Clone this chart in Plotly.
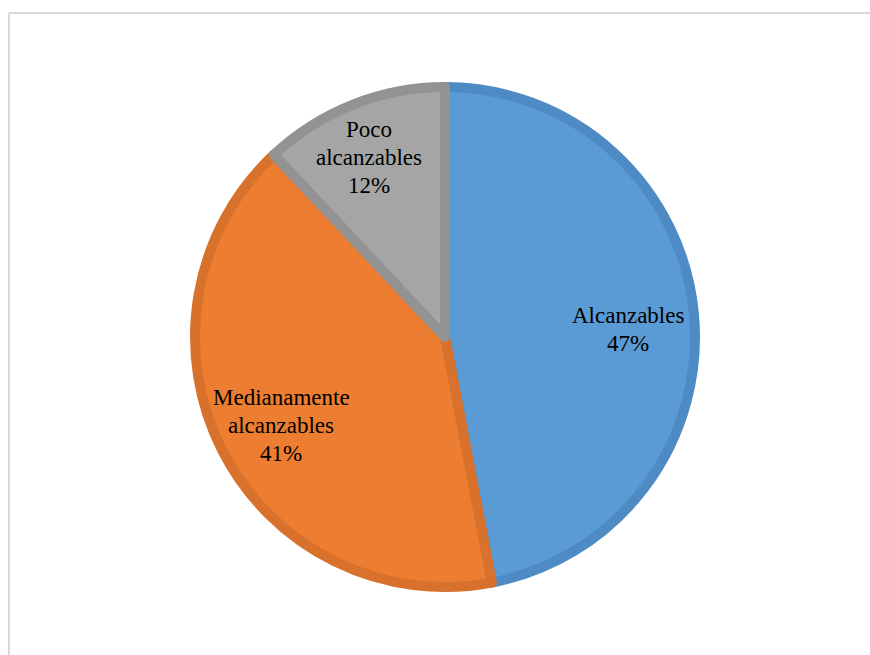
import math
import plotly.graph_objects as go

# Share of objectives by reachability
categories = ["Alcanzables", "Medianamente alcanzables", "Poco alcanzables"]
label_lines = [["Alcanzables"], ["Medianamente", "alcanzables"], ["Poco", "alcanzables"]]
values = [47, 41, 12]

fill_colors = ["#5B9BD5", "#ED7D31", "#A5A5A5"]
edge_colors = ["#4E8BC4", "#D8712B", "#939393"]

W, H = 870, 655
cx, cy = 445, 337          # pie centre in pixels (from top-left)
r_fill = 250               # radius of the filled part
edge_w = 10

fig = go.Figure()
fig.add_trace(go.Pie(
    labels=categories,
    values=values,
    sort=False,
    direction="clockwise",
    rotation=0,
    marker=dict(colors=fill_colors, line=dict(color=edge_colors, width=edge_w)),
    textinfo="none",
    hoverinfo="label+percent",
    showlegend=False,
    domain=dict(x=[(cx - r_fill) / W, (cx + r_fill) / W],
                y=[(H - cy - r_fill) / H, (H - cy + r_fill) / H]),
))

# Slice labels at each slice's mid-angle, with a small per-label nudge (px)
label_radius = 0.72
label_nudge = [(0, 10), (0, 5), (-8, -9)]
line_gap = 28
label_font = dict(family="Liberation Serif, Times New Roman, serif", size=23, color="#000000")

total = sum(values)
cum = 0
annotations = []
r_outer = r_fill + edge_w / 2
for lines, val, (nx, ny) in zip(label_lines, values, label_nudge):
    mid = (cum + val / 2) / total * 2 * math.pi
    cum += val
    px = cx + label_radius * r_outer * math.sin(mid) + nx
    py = cy - label_radius * r_outer * math.cos(mid) + ny
    pct = round(val / total * 100)
    rows = lines + [f"{pct}%"]
    n = len(rows)
    for i, row in enumerate(rows):
        ry = py + (i - (n - 1) / 2) * line_gap
        annotations.append(dict(
            x=px / W, y=1 - ry / H, xref="paper", yref="paper",
            text=row, showarrow=False,
            xanchor="center", yanchor="middle", align="center",
            font=label_font,
        ))

# Chart-area frame (left and top edges visible)
shapes = [
    dict(type="line", xref="paper", yref="paper",
         x0=9 / W, x1=9 / W, y0=0, y1=1 - 13 / H,
         line=dict(color="#D9D9D9", width=2)),
    dict(type="line", xref="paper", yref="paper",
         x0=9 / W, x1=1, y0=1 - 13 / H, y1=1 - 13 / H,
         line=dict(color="#D9D9D9", width=2)),
]

fig.update_layout(
    width=W, height=H,
    margin=dict(l=0, r=0, t=0, b=0),
    paper_bgcolor="#FFFFFF",
    plot_bgcolor="#FFFFFF",
    annotations=annotations,
    shapes=shapes,
)

fig.write_html("out.html")
